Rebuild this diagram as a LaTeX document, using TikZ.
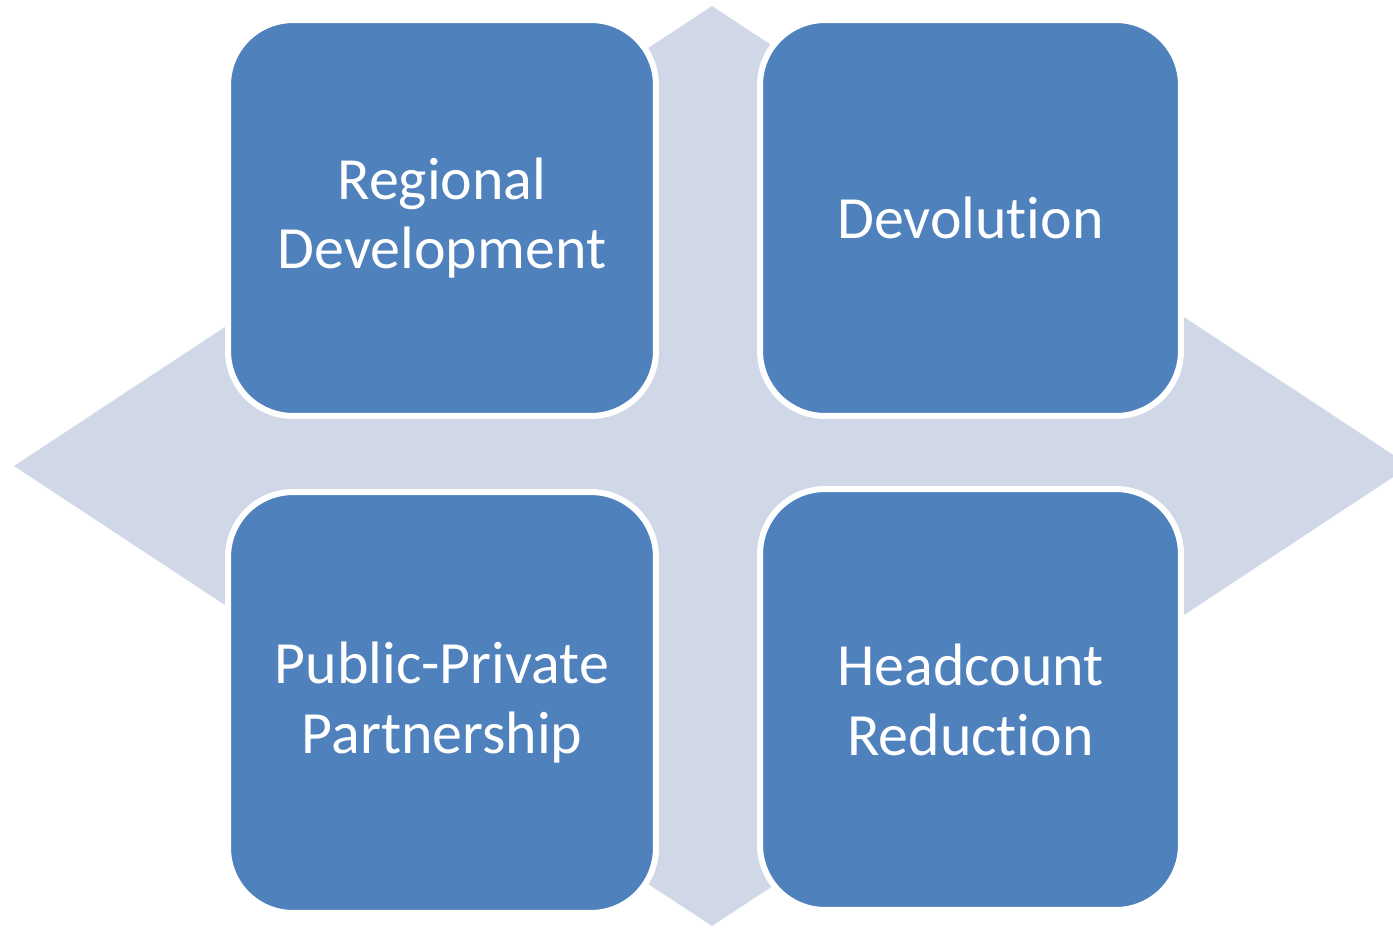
\documentclass[tikz,border=0pt]{standalone}
\usepackage{fontspec}
\setmainfont{Carlito}[Ligatures={NoCommon}]
\definecolor{boxblue}{HTML}{4F81BD}
\definecolor{diamondgray}{HTML}{D0D8E8}
\tikzset{
  quad/.style={rectangle,rounded corners=1.3cm,draw=white,line width=0.12cm,
    fill=boxblue,text=white,align=center,inner sep=0pt,
    font=\fontsize{34.1}{39.8}\selectfont},
}

\begin{document}
\begin{tikzpicture}[x=0.02cm,y=-0.02cm]
\useasboundingbox (0,0) rectangle (1393,927);
\clip (0,0) rectangle (1393,927);

%background diamond
\fill[diamondgray] (14,466) -- (712,6) -- (1410,466) -- (712,926) -- cycle;

%four quadrants
\node[quad,minimum width=8.56cm,minimum height=7.92cm] (regional) at (442,218) {Regional\\Development};
\node[quad,minimum width=8.42cm,minimum height=7.92cm] (devolution) at (970.5,218) {Devolution};
\node[quad,minimum width=8.56cm,minimum height=8.42cm] (ppp) at (442,702.5) {Public-Private\\Partnership};
\node[quad,minimum width=8.42cm,minimum height=8.42cm] (headcount) at (970.5,699.5) {Headcount\\Reduction};

\end{tikzpicture}
\end{document}
